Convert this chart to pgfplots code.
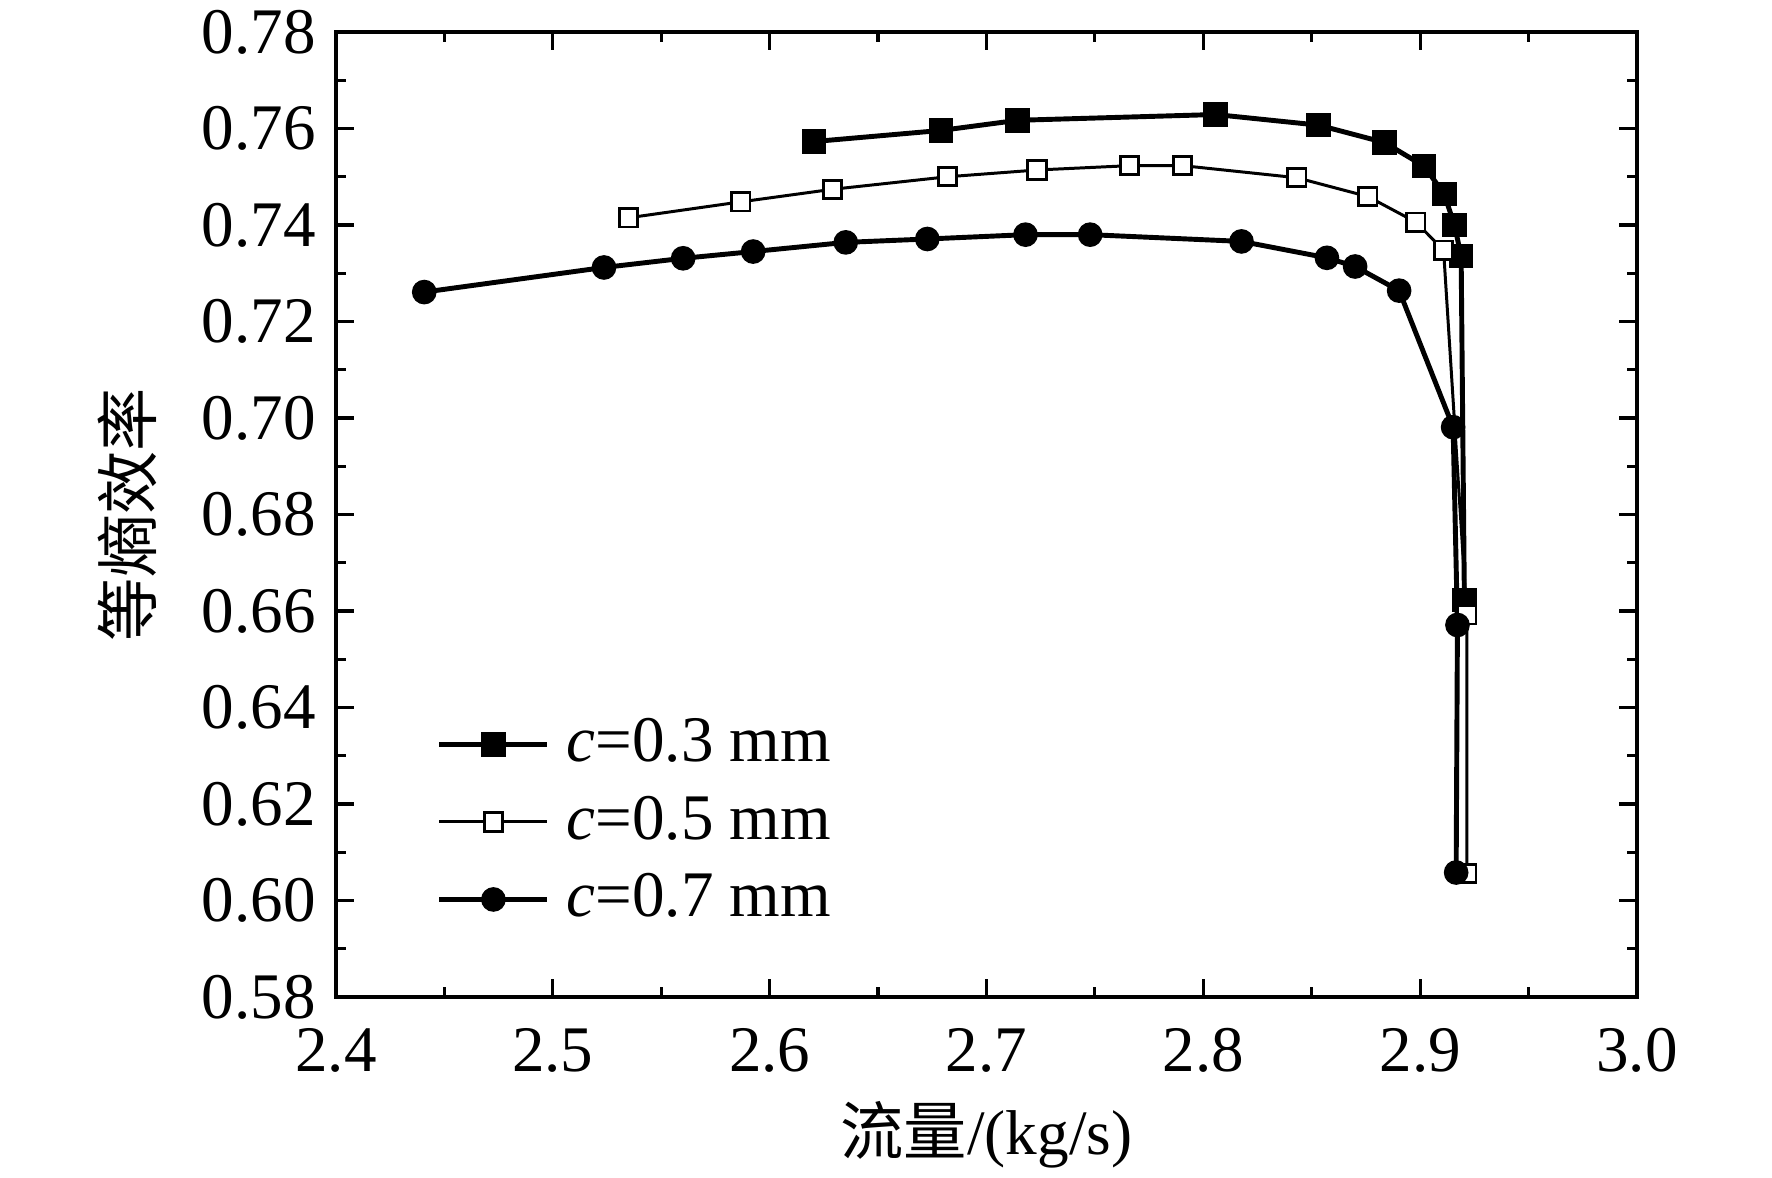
\documentclass[border=0pt]{standalone}
\usepackage{fontspec}
\setmainfont{Liberation Serif}
\newfontfamily\cjk{Noto Sans CJK SC}
\usepackage{pgfplots}
\pgfplotsset{compat=1.18}
\begin{document}
\begin{tikzpicture}
\begin{axis}[
  scale only axis, width=13.01cm, height=9.65cm,
  xmin=2.4, xmax=3.0, ymin=0.58, ymax=0.78,
  xtick={2.4,2.5,2.6,2.7,2.8,2.9,3.0},
  ytick={0.58,0.60,0.62,0.64,0.66,0.68,0.70,0.72,0.74,0.76,0.78},
  minor x tick num=1, minor y tick num=1,
  tick align=inside,
  major tick length=0.18cm, minor tick length=0.1cm,
  axis line style={line width=1.1pt},
  every tick/.style={black, line width=0.9pt},
  /pgf/number format/assume math mode=true,
  xticklabel style={/pgf/number format/fixed, /pgf/number format/fixed zerofill, /pgf/number format/precision=1, yshift=-0.19cm},
  yticklabel style={/pgf/number format/fixed, /pgf/number format/fixed zerofill, /pgf/number format/precision=2, xshift=-0.08cm},
  ticklabel style={font=\fontsize{18.5}{20}\selectfont},
  xlabel={{\cjk 流量}/(kg/s)},
  xlabel style={at={(rel axis cs:0.5,0)}, anchor=base, yshift=-1.57cm, font=\fontsize{18}{20}\selectfont},
  ylabel={\cjk 等熵效率},
  ylabel style={at={(rel axis cs:0,0.5)}, anchor=center, yshift=2.09cm, font=\fontsize{18}{20}\selectfont},
  legend style={at={(rel axis cs:0.0776,0.2902)}, anchor=north west, draw=none, fill=none,
    inner sep=0pt, outer sep=0pt, font=\fontsize{18.5}{20}\selectfont,
    row sep=0.225cm, column sep=0.17cm,
    nodes={inner sep=0pt, text height=0.45cm, text depth=0.1cm}},
  legend cell align=left,
  legend image code/.code={\draw[mark repeat=2,mark phase=2,#1] plot coordinates {(0cm,0cm) (0.54cm,0cm) (1.08cm,0cm)};},
]
\coordinate (ll) at (rel axis cs:0,0);
\coordinate (ur) at (rel axis cs:1,1);
\addplot[black, line width=1.4pt, mark=square*, mark size=2.8pt, mark options={solid, fill=black}] coordinates {
(2.6205,0.7573)(2.679,0.7596)(2.7144,0.7617)(2.8056,0.7629)(2.8531,0.7607)(2.8835,0.7571)(2.9018,0.7522)(2.9111,0.7464)(2.9158,0.7400)(2.9189,0.7336)(2.9204,0.6623)
};
\addlegendentry{{\itshape c}=0.3 mm}
\addplot[black, line width=0.85pt, mark=square*, mark size=2.6pt, mark options={solid, fill=white, draw=black, line width=0.8pt}] coordinates {
(2.535,0.7415)(2.5867,0.7448)(2.6289,0.7474)(2.6821,0.7500)(2.7233,0.7514)(2.766,0.7523)(2.7905,0.7523)(2.8431,0.7498)(2.8759,0.7459)(2.898,0.7406)(2.9108,0.7348)(2.9215,0.6592)(2.9215,0.6056)
};
\addlegendentry{{\itshape c}=0.5 mm}
\addplot[black, line width=1.4pt, mark=*, mark size=2.8pt, mark options={solid, fill=black}] coordinates {
(2.4407,0.7261)(2.5236,0.7312)(2.5601,0.7331)(2.5924,0.7345)(2.6351,0.7364)(2.6727,0.7371)(2.718,0.7380)(2.7478,0.7380)(2.8176,0.7366)(2.857,0.7332)(2.870,0.7314)(2.8903,0.7264)(2.9152,0.6981)(2.9172,0.6571)(2.9166,0.6058)
};
\addlegendentry{{\itshape c}=0.7 mm}
\end{axis}
\pgfresetboundingbox
\path ([shift={(-3.36cm,-1.80cm)}]ll) rectangle ([shift={(1.35cm,0.32cm)}]ur);
\end{tikzpicture}
\end{document}
